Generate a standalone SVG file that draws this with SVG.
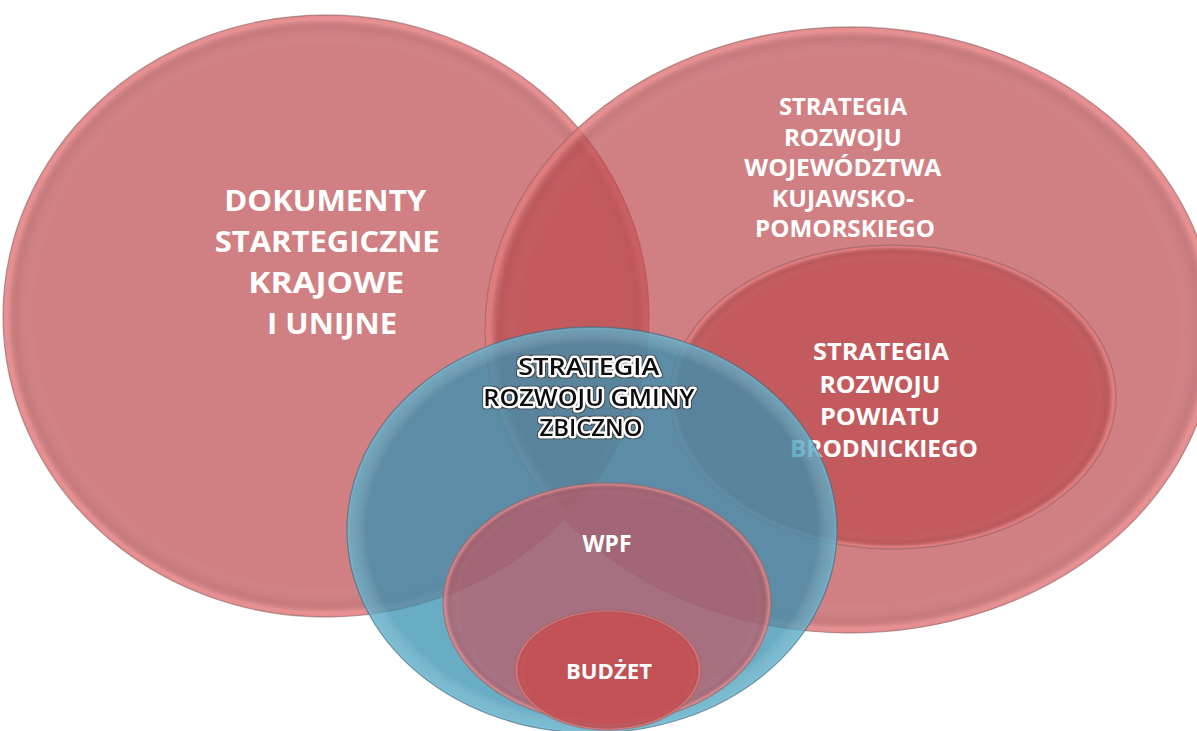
<svg xmlns="http://www.w3.org/2000/svg" width="1197" height="731" viewBox="0 0 1197 731">
<style>
.w{font-family:"Open Sans","Liberation Sans",sans-serif;font-weight:700;fill:#fff;text-anchor:middle}
.k{font-family:"Open Sans","Liberation Sans",sans-serif;font-weight:600;fill:#111;stroke:#fff;stroke-width:4.5;stroke-linejoin:round;paint-order:stroke;text-anchor:middle}
.pink{fill:rgb(188,74,78);fill-opacity:.7}
.blue{fill:rgb(55,146,177);fill-opacity:.75}
.edge{fill:none;stroke:#8a6668;stroke-opacity:.55;stroke-width:1.3}
.bedge{fill:none;stroke:#3f6379;stroke-opacity:.6;stroke-width:1.3}
</style>
<defs>
<radialGradient id="rimP" cx="0.5" cy="0.5" r="0.5">
<stop offset="0" stop-color="#fff" stop-opacity="0"/>
<stop offset="0.9" stop-color="#fff" stop-opacity="0"/>
<stop offset="0.955" stop-color="#7a4a4c" stop-opacity="0.08"/>
<stop offset="0.985" stop-color="#ffa4a4" stop-opacity="0.45"/>
<stop offset="1" stop-color="#ff9c9c" stop-opacity="0.5"/>
</radialGradient>
<radialGradient id="rimB" cx="0.5" cy="0.5" r="0.5">
<stop offset="0" stop-color="#fff" stop-opacity="0"/>
<stop offset="0.92" stop-color="#fff" stop-opacity="0"/>
<stop offset="0.985" stop-color="#9fdcec" stop-opacity="0.3"/>
<stop offset="1" stop-color="#a8e4f2" stop-opacity="0.45"/>
</radialGradient>
<filter id="halo" x="-10%" y="-30%" width="120%" height="160%">
<feMorphology in="SourceAlpha" operator="dilate" radius="1.2" result="d"/>
<feFlood flood-color="#3a3a3a" flood-opacity="0.7"/>
<feComposite in2="d" operator="in" result="o"/>
<feMerge><feMergeNode in="o"/><feMergeNode in="SourceGraphic"/></feMerge>
</filter>
</defs>

<g id="node-krajowe">
<ellipse class="pink" cx="326" cy="316" rx="323" ry="301"/>
<ellipse fill="url(#rimP)" cx="326" cy="316" rx="323" ry="301"/>
<ellipse class="edge" cx="326" cy="316" rx="323" ry="301"/>
<text class="w" font-size="29">
<tspan x="329" y="211" textLength="202" lengthAdjust="spacingAndGlyphs">DOKUMENTY</tspan>
<tspan x="331" y="252" textLength="225" lengthAdjust="spacingAndGlyphs">STARTEGICZNE</tspan>
<tspan x="330" y="293" textLength="156" lengthAdjust="spacingAndGlyphs">KRAJOWE</tspan>
<tspan x="332" y="334" textLength="130" lengthAdjust="spacingAndGlyphs">I UNIJNE</tspan>
</text>
</g>

<g id="node-wojewodztwo">
<ellipse class="pink" cx="850" cy="330" rx="365" ry="303"/>
<ellipse fill="url(#rimP)" cx="850" cy="330" rx="365" ry="303"/>
<ellipse class="edge" cx="850" cy="330" rx="365" ry="303"/>
<text class="w" font-size="24">
<tspan x="846" y="115" textLength="128" lengthAdjust="spacingAndGlyphs">STRATEGIA</tspan>
<tspan x="846" y="145.5" textLength="118" lengthAdjust="spacingAndGlyphs">ROZWOJU</tspan>
<tspan x="846" y="176" textLength="197" lengthAdjust="spacingAndGlyphs">WOJEWÓDZTWA</tspan>
<tspan x="846" y="206.5" textLength="142" lengthAdjust="spacingAndGlyphs">KUJAWSKO-</tspan>
<tspan x="845" y="237" textLength="180" lengthAdjust="spacingAndGlyphs">POMORSKIEGO</tspan>
</text>
</g>

<g id="node-powiat">
<ellipse class="pink" cx="893" cy="397" rx="223" ry="152"/>
<ellipse fill="url(#rimP)" cx="893" cy="397" rx="223" ry="152"/>
<ellipse class="edge" cx="893" cy="397" rx="223" ry="152"/>
<text class="w" font-size="23">
<tspan x="884" y="360" textLength="136" lengthAdjust="spacingAndGlyphs">STRATEGIA</tspan>
<tspan x="883" y="393" textLength="121" lengthAdjust="spacingAndGlyphs">ROZWOJU</tspan>
<tspan x="883" y="425" textLength="120" lengthAdjust="spacingAndGlyphs">POWIATU</tspan>
<tspan x="884" y="457" textLength="188" lengthAdjust="spacingAndGlyphs">BRODNICKIEGO</tspan>
</text>
</g>

<g id="node-gmina">
<ellipse class="blue" cx="592" cy="530" rx="245" ry="203"/>
<ellipse fill="url(#rimB)" cx="592" cy="530" rx="245" ry="203"/>
<ellipse class="bedge" cx="592" cy="530" rx="245" ry="203"/>
<text class="k" font-size="24" filter="url(#halo)">
<tspan x="592" y="375" textLength="141" lengthAdjust="spacingAndGlyphs">STRATEGIA</tspan>
<tspan x="592" y="406" textLength="211" lengthAdjust="spacingAndGlyphs">ROZWOJU GMINY</tspan>
<tspan x="591" y="436" textLength="103" lengthAdjust="spacingAndGlyphs">ZBICZNO</tspan>
</text>
</g>

<g id="node-wpf">
<ellipse fill="rgb(200,80,90)" fill-opacity="0.65" cx="607" cy="603" rx="164" ry="120"/>
<ellipse fill="url(#rimP)" cx="607" cy="603" rx="164" ry="120"/>
<ellipse class="edge" cx="607" cy="603" rx="164" ry="120"/>
<text class="w" font-size="23" x="607" y="552" textLength="49" lengthAdjust="spacingAndGlyphs">WPF</text>
</g>

<g id="node-budzet">
<ellipse fill="rgb(196,78,82)" fill-opacity="0.92" cx="608" cy="670" rx="93" ry="60"/>
<ellipse fill="url(#rimP)" cx="608" cy="670" rx="93" ry="60"/>
<ellipse class="edge" cx="608" cy="670" rx="93" ry="60"/>
<text class="w" font-size="22" x="609" y="679" textLength="86" lengthAdjust="spacingAndGlyphs">BUDŻET</text>
</g>

<g id="connectors"/>
</svg>
